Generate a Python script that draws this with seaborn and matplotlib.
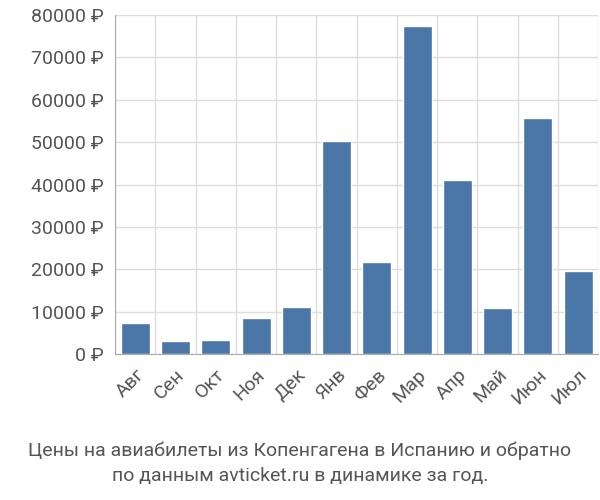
import matplotlib
matplotlib.use("Agg")
import matplotlib.pyplot as plt
import seaborn as sns
import pandas as pd

months = ["Авг", "Сен", "Окт", "Ноя", "Дек", "Янв", "Фев", "Мар", "Апр", "Май", "Июн", "Июл"]
prices = [7200, 3000, 3200, 8500, 11100, 50200, 21700, 77300, 41000, 10900, 55800, 19600]
yticks = [0, 10000, 20000, 30000, 40000, 50000, 60000, 70000, 80000]

sns.set_style("whitegrid")
plt.rcParams["font.family"] = ["Roboto", "DejaVu Sans"]

df = pd.DataFrame({"month": months, "price": prices})

fig = plt.figure(figsize=(6, 5), dpi=100)
ax = fig.add_axes([0.192, 0.292, 0.805, 0.678])
sns.barplot(data=df, x="month", y="price", color="#4a76a8", width=0.72, saturation=1, ax=ax)

ax.set_ylim(0, 80000)
ax.set_xlim(-0.5, len(months) - 0.5)
ax.set_yticks(yticks)
ax.set_yticklabels([f"{v} ₽" for v in yticks], fontsize=14, color="#555555")
ax.set_xticks(range(len(months)))
ax.set_xticklabels(months, rotation=45, ha="right", rotation_mode="anchor", fontsize=14, color="#555555")
ax.set_xticks([i + 0.5 for i in range(-1, len(months))], minor=True)
ax.grid(False)
ax.grid(True, which="major", axis="y", color="#dddddd", linewidth=1)
ax.grid(True, which="minor", axis="x", color="#dddddd", linewidth=1)
ax.tick_params(axis="both", which="major", length=5, color="#aaaaaa")
ax.tick_params(axis="x", which="minor", length=0)
ax.set_xlabel("")
ax.set_ylabel("")
for s in ax.spines.values():
    s.set_visible(False)
ax.spines["left"].set_visible(True)
ax.spines["left"].set_color("#aaaaaa")
ax.spines["bottom"].set_visible(True)
ax.spines["bottom"].set_color("#aaaaaa")

fig.text(0.5, 0.03, "Цены на авиабилеты из Копенгагена в Испанию и обратно\nпо данным avticket.ru в динамике за год.",
         ha="center", va="bottom", fontsize=14, color="#555555", linespacing=1.5)

fig.savefig("out.png", dpi=100)
